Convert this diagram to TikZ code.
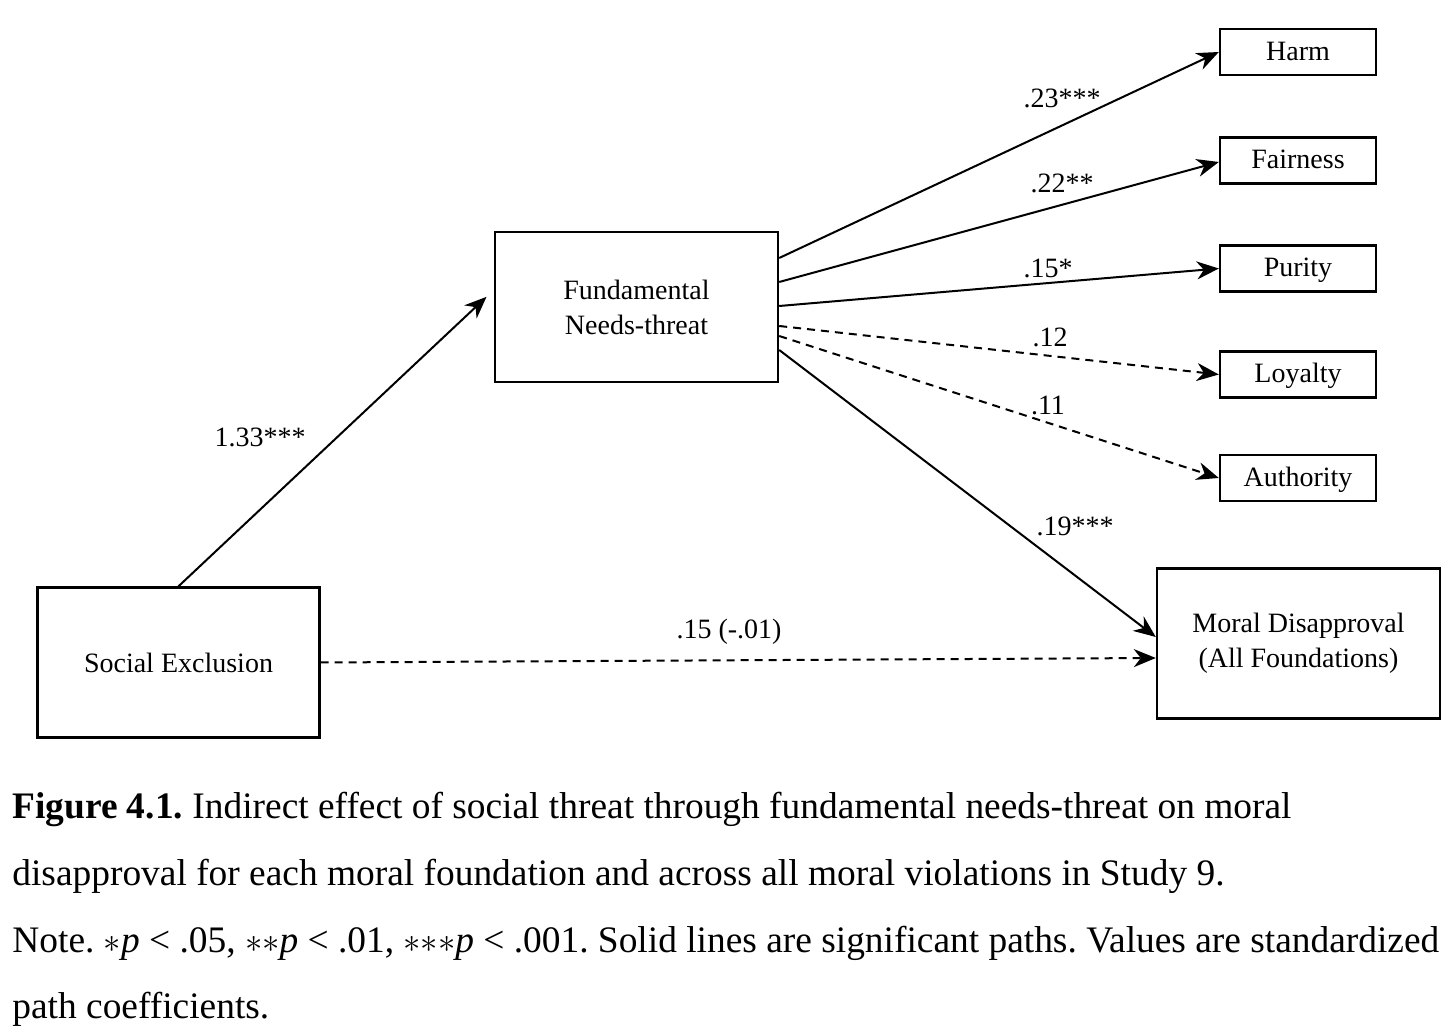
\documentclass[tikz,border=0pt]{standalone}
\usepackage{fontspec}
\setmainfont{Liberation Serif}
\usetikzlibrary{arrows.meta}
\frenchspacing
\begin{document}
\begin{tikzpicture}[x=0.5pt,y=-0.5pt,
  box/.style={draw,line width=1.2pt,inner sep=0pt,font=\fontsize{14}{17.5}\selectfont,align=center},
  sbox/.style={box,minimum width=78pt,minimum height=23pt,text height=9.5pt,text depth=1pt},
  arr/.style={line width=1pt,-{Stealth[length=11pt,width=9pt,inset=3.5pt]}},
  nsarr/.style={arr,dash pattern=on 4pt off 3pt},
  lab/.style={font=\fontsize{14}{17}\selectfont,inner sep=0pt},
  captxt/.style={anchor=base west,inner sep=0pt,font=\fontsize{18.7}{20}\selectfont}]
\useasboundingbox (0,0) rectangle (1456,1036);
% boxes
\node[box,minimum width=141pt,minimum height=75pt] (soc) at (178.5,662.5) {Social Exclusion};
\node[box,minimum width=141.5pt,minimum height=75pt] (fund) at (636.5,307) {Fundamental\\Needs-threat};
\node[box,minimum width=141.5pt,minimum height=75pt] (moral) at (1298.5,643.5) {Moral Disapproval\\(All Foundations)};
\node[sbox] (harm) at (1298,52) {Harm};
\node[sbox] (fair) at (1298,160.5) {Fairness};
\node[sbox] (pur) at (1298,268.5) {Purity};
\node[sbox] (loy) at (1298,374.5) {Loyalty};
\node[sbox] (auth) at (1298,478) {Authority};
% connectors
\draw[arr,shorten >=5pt] (soc.north) -- ([yshift=8.5pt]fund.west);
\draw[arr] ([yshift=24.5pt]fund.east) -- (harm.west);
\draw[arr] ([yshift=12.5pt]fund.east) -- ([yshift=-0.75pt]fair.west);
\draw[arr] ([yshift=0.5pt]fund.east) -- (pur.west);
\draw[nsarr] ([yshift=-9.5pt]fund.east) -- (loy.west);
\draw[nsarr] ([yshift=-14.5pt]fund.east) -- (auth.west);
\draw[arr] ([yshift=-21.5pt]fund.east) -- ([yshift=3.25pt]moral.west);
\draw[nsarr] (soc.east) -- ([yshift=-7.25pt]moral.west);
% labels
\node[lab] (l1) at (260,437) {1.33***};
\node[lab] (l2) at (1062,98) {.23***};
\node[lab] (l3) at (1062,183) {.22**};
\node[lab] (l4) at (1048,268) {.15*};
\node[lab] (l5) at (1050,337) {.12};
\node[lab] (l6) at (1048,405) {.11};
\node[lab] (l7) at (1075,526) {.19***};
\node[lab] (l8) at (729,632) {.15 (-.01)};
% caption
\node[captxt] (c1) at (12,818) {\textbf{Figure 4.1.} Indirect effect of social threat through fundamental needs-threat on moral};
\node[captxt] (c2) at (12,885) {disapproval for each moral foundation and across all moral violations in Study 9.};
\node[captxt] (c3) at (12,952) {Note. ${\ast}$\textit{p} < .05, ${\ast}{\ast}$\textit{p} < .01, ${\ast}{\ast}{\ast}$\textit{p} < .001. Solid lines are significant paths. Values are standardized};
\node[captxt] (c4) at (12,1018) {path coefficients.};
\end{tikzpicture}
\end{document}
